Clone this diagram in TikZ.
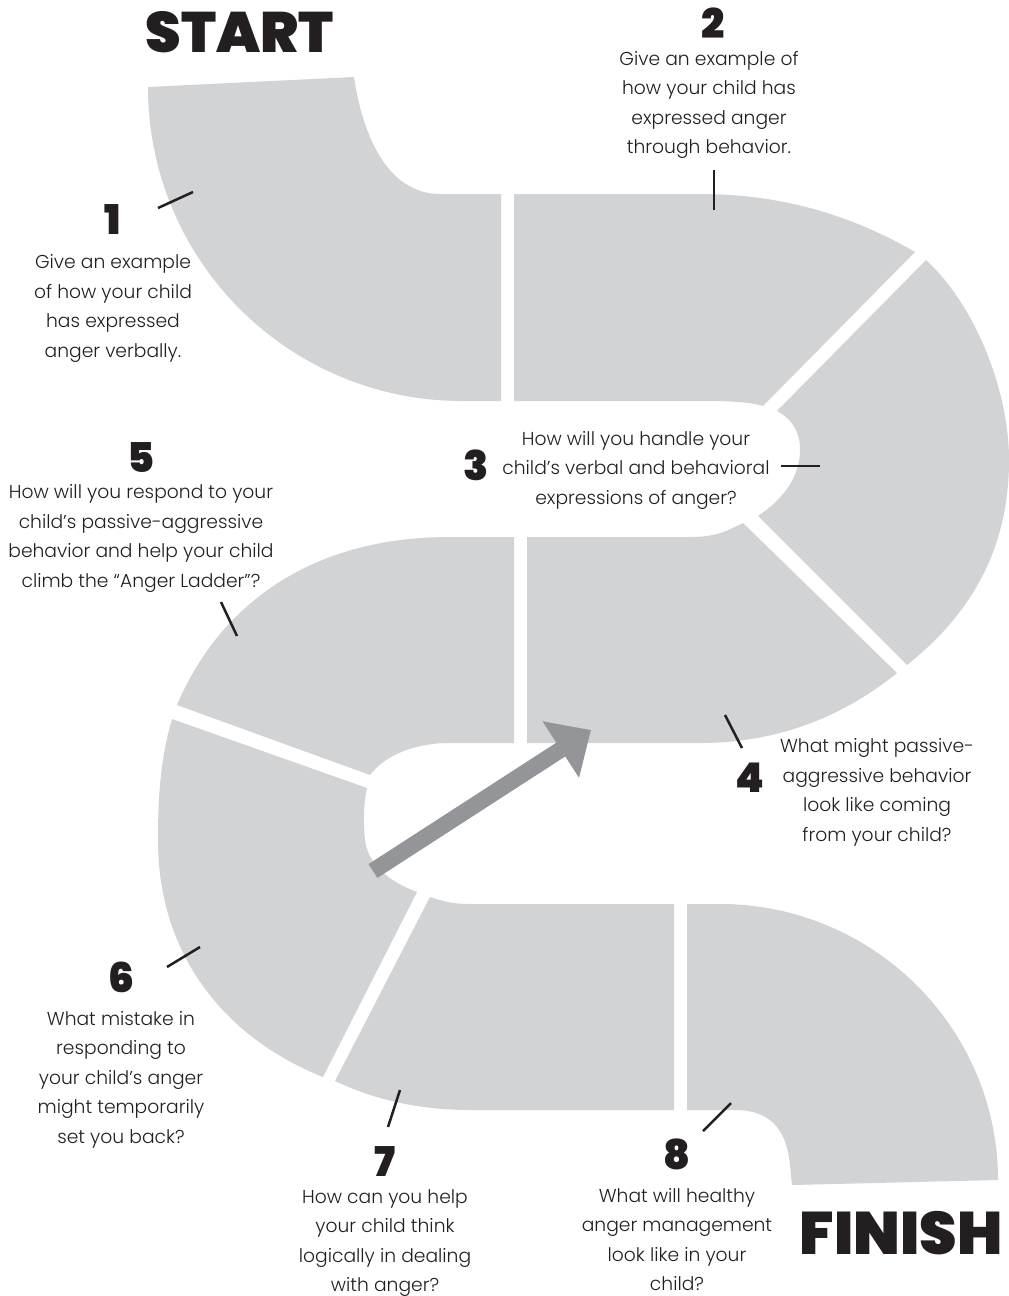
\documentclass[tikz,border=0pt]{standalone}
\usepackage{fontspec}
\usetikzlibrary{arrows.meta}
\IfFontExistsTF{Poppins Light}{\newfontfamily\bodyf{Poppins Light}}{\newfontfamily\bodyf{Poppins}}
\IfFontExistsTF{Poppins Black}{\newfontfamily\heavyf{Poppins Black}}{%
  \IfFontExistsTF{Poppins Bold}{\newfontfamily\heavyf{Poppins Bold}}{\newfontfamily\heavyf{Poppins}}}
\definecolor{roadgray}{HTML}{D1D3D4}
\definecolor{arrowgray}{HTML}{939598}
\definecolor{ink}{HTML}{231F20}
\begin{document}
\begin{tikzpicture}[x=1pt,y=-1pt,
  every node/.style={inner sep=0pt, text=ink},
  segment/.style={fill=roadgray, draw=none},
  lead/.style={draw=ink, line width=2.5pt},
  qtext/.style={align=center, font=\bodyf\fontsize{18.7}{29.5}\selectfont},
  num/.style={font=\heavyf\fontsize{41}{41}\selectfont},
  title/.style={font=\heavyf\fontsize{57}{57}\selectfont}]
\useasboundingbox (0,0) rectangle (1009,1296);

% road segments
\fill[segment] (148,87) -- (354,77) .. controls (365,150) and (395,194) .. (440,194) -- (501,194) -- (501,401) -- (462,401) .. controls (289,401) and (148,261) .. (148,87) -- cycle;
\fill[segment] (514,194) -- (700,194) .. controls (790,194) and (860,220) .. (915,252) -- (763,406) .. controls (750,402) and (730,401) .. (705,401) -- (514,401) -- cycle;
\fill[segment] (926,260) .. controls (975,305) and (1009,390) .. (1009,460) .. controls (1009,550) and (970,615) .. (907,665) -- (758,516) .. controls (785,498) and (800,475) .. (800,450) .. controls (800,432) and (793,420) .. (777,411) -- cycle;
\fill[segment] (743,523) .. controls (725,532) and (715,537) .. (690,537) -- (527,537) -- (527,743) -- (700,743) .. controls (780,743) and (845,715) .. (897,673) -- cycle;
\fill[segment] (514,537) -- (514,743) -- (450,743) .. controls (415,743) and (385,755) .. (370,775) -- (177,705) .. controls (215,615) and (300,537) .. (450,537) -- cycle;
\fill[segment] (172,719) .. controls (160,760) and (158,800) .. (158,840) .. controls (158,960) and (230,1040) .. (323,1077) -- (417,892) .. controls (390,882) and (368,865) .. (365,840) .. controls (363,820) and (364,800) .. (367,788) -- cycle;
\fill[segment] (430,897) .. controls (445,902) and (455,904) .. (470,904) -- (674,904) -- (674,1110) -- (470,1110) .. controls (420,1110) and (375,1100) .. (335,1081) -- cycle;
\fill[segment] (687,904) -- (720,904) .. controls (873,904) and (998,1028) .. (998,1180) -- (792,1185) -- (790,1165) .. controls (787,1135) and (775,1110) .. (735,1110) -- (687,1110) -- cycle;

% arrow
\coordinate (atail) at (373,871);
\coordinate (atip) at (591,730);
\draw[arrowgray, line width=16.4pt, -{Triangle[length=36pt,width=65pt]}] (atail) -- (atip);

% titles
\node[title] (start) at (240,32) {START};
\node[title, font=\heavyf\fontsize{60}{60}\selectfont] (finish) at (901,1233) {FINISH};

% numbers
\node[num] (n1) at (113,220) {1};
\node[num] (n2) at (713,23) {2};
\node[num] (n3) at (476,465) {3};
\node[num] (n4) at (750,778) {4};
\node[num] (n5) at (141,458) {5};
\node[num] (n6) at (121,977) {6};
\node[num] (n7) at (385,1161) {7};
\node[num] (n8) at (677,1154) {8};

% questions
\node[qtext] (q1) at (113,308.5) {Give an example\\of how your child\\has expressed\\anger verbally.};
\node[qtext] (q2) at (709,105) {Give an example of\\how your child has\\expressed anger\\through behavior.};
\node[qtext] (q3) at (636,470) {How will you handle your\\child’s verbal and behavioral\\expressions of anger?};
\node[qtext] (q4) at (877,792.5) {What might passive-\\aggressive behavior\\look like coming\\from your child?};
\node[qtext] (q5) at (141,538.5) {How will you respond to your\\child’s passive-aggressive\\behavior and help your child\\climb the “Anger Ladder”?};
\node[qtext] (q6) at (121,1079.5) {What mistake in\\responding to\\your child’s anger\\might temporarily\\set you back?};
\node[qtext] (q7) at (385,1243) {How can you help\\your child think\\logically in dealing\\with anger?};
\node[qtext] (q8) at (677,1239.5) {What will healthy\\anger management\\look like in your\\child?};

% leader lines
\coordinate (l1a) at (158,208); \coordinate (l1b) at (193,192);
\coordinate (l2a) at (714,170); \coordinate (l2b) at (714,210);
\coordinate (l3a) at (781,466); \coordinate (l3b) at (820,466);
\coordinate (l4a) at (725,715); \coordinate (l4b) at (742,748);
\coordinate (l5a) at (221,602); \coordinate (l5b) at (237,636);
\coordinate (l6a) at (167,967); \coordinate (l6b) at (200,947);
\coordinate (l7a) at (400,1090); \coordinate (l7b) at (388,1127);
\coordinate (l8a) at (731,1103); \coordinate (l8b) at (703,1131);
\foreach \k in {1,...,8} { \draw[lead] (l\k a) -- (l\k b); }
\end{tikzpicture}
\end{document}
